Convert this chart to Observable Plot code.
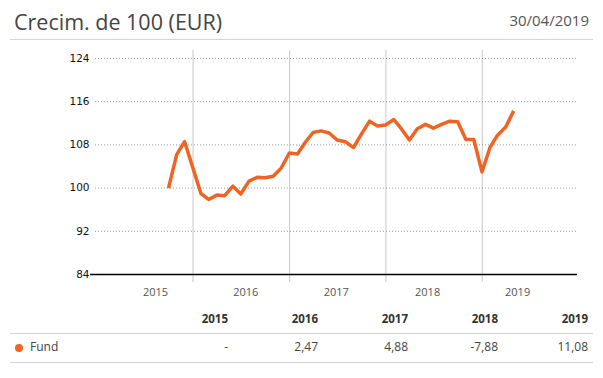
<!DOCTYPE html>
<html>
<head>
<meta charset="utf-8">
<script src="https://cdn.jsdelivr.net/npm/d3@7"></script>
<script src="https://cdn.jsdelivr.net/npm/@observablehq/plot@0.6"></script>
<style>
  body { margin: 0; background: #fff; font-family: "Open Sans", sans-serif; }
  #wrap { position: relative; width: 603px; height: 378px; overflow: hidden; }
  .abs { position: absolute; white-space: nowrap; }
  #title { left: 14px; top: 12px; font-size: 21.5px; line-height: 20px; color: #444; }
  #date { right: 14px; top: 13px; font-size: 15px; line-height: 14px; color: #555; }
  .hline { position: absolute; left: 10px; width: 583px; height: 1px; background: #d4d4d4; }
  .cell { position: absolute; font-size: 12px; line-height: 14px; text-align: right; width: 60px; }
  .hdr { font-weight: bold; color: #333; font-size: 11.5px; }
  .val { color: #444; }
  #chart { position: absolute; left: 0; top: 40px; }
</style>
</head>
<body>
<div id="wrap">
  <div id="title" class="abs"></div>
  <div id="date" class="abs"></div>
  <div class="hline" style="top:39px"></div>
  <div id="chart"></div>
  <div id="table"></div>
</div>
<script>
const titleText = "Crecim. de 100 (EUR)";
const dateText = "30/04/2019";
const seriesName = "Fund";
const lineColor = "#ef6423";

const months = [
  "2015-09-30","2015-10-31","2015-11-30","2015-12-31",
  "2016-01-31","2016-02-29","2016-03-31","2016-04-30","2016-05-31","2016-06-30",
  "2016-07-31","2016-08-31","2016-09-30","2016-10-31","2016-11-30","2016-12-31",
  "2017-01-31","2017-02-28","2017-03-31","2017-04-30","2017-05-31","2017-06-30",
  "2017-07-31","2017-08-31","2017-09-30","2017-10-31","2017-11-30","2017-12-31",
  "2018-01-31","2018-02-28","2018-03-31","2018-04-30","2018-05-31","2018-06-30",
  "2018-07-31","2018-08-31","2018-09-30","2018-10-31","2018-11-30","2018-12-31",
  "2019-01-31","2019-02-28","2019-03-31","2019-04-30"
];
const values = [
  100.0, 106.2, 108.6, 103.8,
  99.0, 97.9, 98.7, 98.6, 100.35, 98.9,
  101.3, 102.0, 101.9, 102.2, 103.7, 106.5,
  106.3, 108.4, 110.3, 110.6, 110.2, 108.9,
  108.6, 107.5, 110.0, 112.4, 111.5, 111.7,
  112.7, 111.0, 108.9, 111.0, 111.8, 111.1,
  111.8, 112.4, 112.3, 109.0, 109.0, 103.0,
  107.6, 109.8, 111.3, 114.3
];
const yTicks = [84, 92, 100, 108, 116, 124];
const yearStarts = ["2016-01-01","2017-01-01","2018-01-01","2019-01-01"];
const xLabelDates = ["2015-08-12","2016-07-19","2017-06-27","2018-06-08","2019-05-15"];
const xDomain = ["2014-12-16","2019-12-28"];
const tableYears = ["2015","2016","2017","2018","2019"];
const tableReturns = [null, 2.47, 4.88, -7.88, 11.08];

document.getElementById("title").textContent = titleText;
document.getElementById("date").textContent = dateText;

const data = months.map((m, i) => ({date: new Date(m), value: values[i]}));

const chart = Plot.plot({
  width: 603,
  height: 260,
  marginTop: 18,
  marginBottom: 26,
  marginLeft: 92,
  marginRight: 26,
  style: {fontFamily: "'Open Sans', sans-serif", background: "transparent"},
  x: {type: "utc", domain: xDomain.map(d => new Date(d))},
  y: {domain: [84, 124]},
  marks: [
    Plot.ruleX(yearStarts.map(d => new Date(d)), {stroke: "#c8c8c8", strokeWidth: 1, insetTop: -8, insetBottom: -8}),
    Plot.ruleY(yTicks.filter(t => t > 84), {stroke: "#999", strokeDasharray: "1,2", insetLeft: 3}),
    Plot.ruleY([84], {stroke: "#000", strokeWidth: 1.5, insetLeft: -2}),
    Plot.axisY(yTicks, {tickSize: 0, tickPadding: 3, fontSize: 10.5, fill: "#111", fontFamily: "'DejaVu Sans', sans-serif", label: null}),
    Plot.axisX(xLabelDates.map(d => new Date(d)), {tickSize: 0, tickPadding: 14, fontSize: 11, fill: "#555", tickFormat: d3.utcFormat("%Y"), label: null}),
    Plot.line(data, {x: "date", y: "value", stroke: lineColor, strokeWidth: 3.5, strokeLinejoin: "round", strokeLinecap: "butt"})
  ]
});
document.getElementById("chart").appendChild(chart);

// table
const table = document.getElementById("table");
const colRight = i => 228 + i * 90;
const fmt = v => v == null ? "-" : v.toFixed(2).replace(".", ",");
tableYears.forEach((y, i) => {
  const h = document.createElement("div");
  h.className = "cell hdr";
  h.style.left = (colRight(i) - 60) + "px";
  h.style.top = "312px";
  h.textContent = y;
  table.appendChild(h);
  const c = document.createElement("div");
  c.className = "cell val";
  c.style.left = (colRight(i) - 60) + "px";
  c.style.top = "340px";
  c.textContent = fmt(tableReturns[i]);
  table.appendChild(c);
});
[333, 362].forEach(t => {
  const l = document.createElement("div");
  l.className = "hline";
  l.style.top = t + "px";
  table.appendChild(l);
});
const dot = document.createElement("div");
dot.style.cssText = `position:absolute;left:15px;top:344px;width:8px;height:8px;border-radius:50%;background:${lineColor}`;
table.appendChild(dot);
const name = document.createElement("div");
name.className = "abs";
name.style.cssText = "left:30px;top:340px;font-size:12px;line-height:14px;color:#444";
name.textContent = seriesName;
table.appendChild(name);
</script>
</body>
</html>
